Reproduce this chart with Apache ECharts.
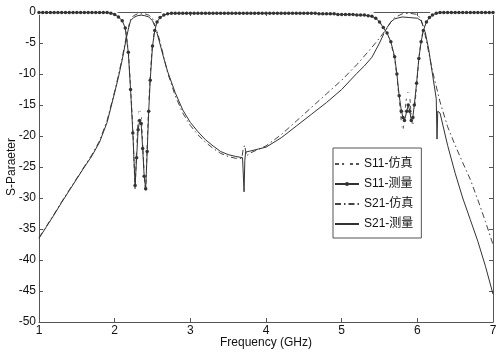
<!DOCTYPE html>
<html><head><meta charset="utf-8">
<script src="https://cdn.jsdelivr.net/npm/echarts/dist/echarts.min.js"></script>
<style>html,body{margin:0;padding:0;background:#fff}#c{width:500px;height:355px}</style>
</head><body><div id="c"></div><script>
var FONT = 'Arial, "Liberation Sans", "Noto Sans CJK SC", sans-serif';
var seriesNames = ['S11-仿真', 'S11-测量', 'S21-仿真', 'S21-测量'];

var freqS11 = [
 1.00,1.05,1.10,1.15,1.20,1.25,1.30,1.35,1.40,1.45,1.50,1.55,1.60,1.65,1.70,1.75,1.80,1.85,1.90,1.95,2.00,2.05,2.10,
 2.14,2.18,2.21,2.24,2.27,2.29,2.31,2.33,2.35,2.37,2.39,2.41,2.43,2.45,2.47,2.50,2.53,2.56,2.60,2.65,2.70,
 2.75,2.80,2.85,2.90,2.95,3.00,3.05,3.10,3.15,3.20,3.25,3.30,3.35,3.40,3.45,3.50,3.55,3.60,3.65,3.70,3.75,3.80,3.85,3.90,3.95,4.00,4.05,4.10,4.15,4.20,4.25,4.30,4.35,4.40,4.45,4.50,4.55,
 4.60,4.65,4.70,4.75,4.80,4.85,4.90,4.95,5.00,5.05,5.10,5.15,5.20,5.25,5.30,5.35,
 5.40,5.45,5.50,5.55,5.60,5.65,5.70,5.73,5.76,5.79,5.81,5.83,5.86,5.88,5.90,5.92,5.94,5.96,5.99,6.02,6.05,6.08,6.12,6.16,6.20,6.25,
 6.30,6.35,6.40,6.45,6.50,6.55,6.60,6.65,6.70,6.75,6.80,6.85,6.90,6.95,7.00
];
var s11Sim = [
 0,0,0,0,0,0,0,0,0,0,0,0,0,0,0,0,0,0,0,-0.1,-0.3,-0.6,-1.2,
 -2.4,-6,-12,-18.5,-29,-22,-17,-15.5,-16.5,-21,-26,-29.5,-21,-15,-10,-5,-2.8,-1.5,-0.8,-0.4,-0.2,
 -0.1,-0.1,0,0,0,0,0,0,0,0,0,0,0,0,0,0,0,0,0,0,0,0,0,0,0,0,0,0,0,0,0,0,0,0,0,-0.1,-0.1,
 -0.1,-0.1,-0.1,-0.1,-0.1,-0.2,-0.2,-0.2,-0.2,-0.2,-0.2,-0.2,-0.2,-0.3,-0.3,-0.4,
 -0.5,-0.9,-1.5,-2.4,-3.5,-5,-7.5,-10.5,-14,-18,-19.5,-16.5,-13.5,-12.5,-13.5,-17,-18.5,-16,-12,-7.5,-4.5,-2.8,-1.5,-0.8,-0.4,-0.2,
 0,0,0,0,0,0,0,0,0,0,0,0,0,0,0
];
var s11Meas = [
 -0.1,-0.1,-0.1,-0.1,-0.1,-0.1,-0.1,-0.1,-0.1,-0.1,-0.1,-0.1,-0.1,-0.1,-0.1,-0.1,-0.1,-0.1,-0.1,-0.2,-0.4,-0.8,-1.4,
 -2.6,-6.5,-12.5,-19.5,-28,-23.5,-19,-17.5,-18,-22,-26.5,-28.5,-22.5,-16,-11,-5.5,-3,-1.6,-0.9,-0.5,-0.3,
 -0.2,-0.2,-0.2,-0.2,-0.2,-0.2,-0.2,-0.2,-0.2,-0.2,-0.2,-0.2,-0.2,-0.2,-0.2,-0.2,-0.2,-0.2,-0.2,-0.2,-0.2,-0.2,-0.2,-0.2,-0.2,-0.2,-0.2,-0.2,-0.2,-0.2,-0.2,-0.2,-0.2,-0.2,-0.2,-0.2,-0.2,
 -0.2,-0.2,-0.3,-0.3,-0.3,-0.3,-0.3,-0.4,-0.4,-0.4,-0.4,-0.4,-0.5,-0.5,-0.5,-0.6,
 -0.7,-1.0,-1.6,-2.5,-3.4,-4.8,-7.2,-10,-13.5,-16,-17,-17.5,-16,-15,-16,-17.5,-17,-15,-11.5,-7.5,-4.8,-3,-1.6,-0.9,-0.5,-0.2,
 -0.1,-0.1,-0.1,-0.1,-0.1,-0.1,-0.1,-0.1,-0.1,-0.1,-0.1,-0.1,-0.1,-0.1,-0.1
];

var freqS21Sim = [1.0,1.1,1.2,1.3,1.4,1.5,1.6,1.7,1.8,1.9,2.0,2.05,2.1,2.15,2.18,2.21,2.25,2.3,2.35,2.4,
 2.45,2.5,2.55,2.6,2.7,2.8,2.9,3.0,3.1,3.2,3.3,3.4,3.5,3.6,3.68,3.7,3.72,3.74,3.8,4.0,
 4.2,4.4,4.6,4.8,5.0,5.2,5.4,5.5,5.6,5.65,5.7,5.8,5.9,6.0,6.05,6.1,6.15,6.2,6.3,6.4,6.5,6.6,6.7,6.8,6.9,7.0];
var s21Sim = [-36.4,-34.5,-32.6,-30.6,-28.7,-26.8,-24.9,-23.0,-20.8,-17.5,
 -12.8,-10.2,-7.4,-4.2,-2.5,-1.2,-0.6,-0.3,-0.3,-0.3,
 -0.5,-1.0,-2.7,-4.8,-9.8,-13.5,-16.3,-18.3,-19.8,-21.0,
 -22.0,-22.8,-23.3,-23.6,-23.6,-22.0,-21.5,-23.2,-22.7,-21.6,
 -19.8,-17.6,-15.4,-13.2,-11.0,-8.5,-5.7,-4.2,-2.6,-1.6,
 -0.9,-0.3,-0.2,-0.4,-1.2,-3.5,-6.5,-9.5,-14.5,-18.5,
 -21.5,-24.3,-27.0,-30.3,-33.8,-37.5];

var freqS21Meas = [1.0,1.1,1.2,1.3,1.4,1.5,1.6,1.7,1.8,1.9,2.0,2.05,2.1,2.15,2.18,2.21,2.25,2.3,2.35,2.4,
 2.45,2.5,2.53,2.56,2.6,2.65,2.7,2.8,2.9,3.0,3.1,3.2,3.3,3.4,3.5,3.6,3.69,3.7,3.71,3.72,
 3.73,3.8,3.9,4.0,4.2,4.4,4.6,4.8,5.0,5.2,5.3,5.4,5.5,5.55,5.6,5.65,5.7,5.8,5.9,6.0,
 6.05,6.1,6.15,6.2,6.25,6.26,6.27,6.3,6.4,6.5,6.6,6.7,6.8,6.9,7.0];
var s21Meas = [-36.5,-34.6,-32.7,-30.7,-28.8,-26.9,-25.0,-23.2,-21.0,-17.8,
 -13.0,-10.5,-7.7,-4.5,-2.8,-1.4,-0.9,-0.6,-0.5,-0.6,
 -0.8,-1.4,-2.3,-3.4,-5.2,-7.5,-9.6,-13.0,-15.8,-17.8,
 -19.3,-20.6,-21.6,-22.5,-23.0,-23.3,-23.5,-23.6,-29.0,-24.0,
 -22.6,-22.4,-22.1,-21.8,-20.3,-18.4,-16.5,-14.6,-12.5,-9.9,
 -8.7,-7.3,-5.0,-3.7,-2.5,-1.6,-1.1,-0.8,-0.9,-1.0,
 -1.4,-3.0,-6.0,-10.0,-14.0,-20.5,-16.0,-16.3,-21.5,-26.0,
 -30.0,-33.5,-37.0,-41.0,-45.5];

var xTicks = [1,2,3,4,5,6,7];
var yTicks = [0,-5,-10,-15,-20,-25,-30,-35,-40,-45,-50];

function zip(f, v){ return f.map(function(x,i){ return [x, v[i]]; }); }

var axisColor = '#555';
var textColor = '#111';
function xAx(pos, show){
  return {type:'value', position:pos, min:xTicks[0], max:xTicks[xTicks.length-1], interval:1,
    axisLine:{show:true, onZero:false, lineStyle:{color:axisColor, width:1}},
    axisTick:{show:true, inside:true, length:4, lineStyle:{color:axisColor}},
    axisLabel:{show:show, color:textColor, fontSize:12, fontFamily:FONT, margin:3, showMinLabel:true, showMaxLabel:true},
    splitLine:{show:false},
    name: show ? 'Frequency (GHz)' : '', nameLocation:'middle', nameGap:15, nameMoveOverlap:false,
    nameTextStyle:{color:textColor, fontSize:12, fontFamily:FONT}};
}
function yAx(pos, show){
  return {type:'value', position:pos, min:yTicks[yTicks.length-1], max:yTicks[0], interval:5,
    axisLine:{show:true, onZero:false, lineStyle:{color:axisColor, width:1}},
    axisTick:{show:true, inside:true, length:4, lineStyle:{color:axisColor}},
    axisLabel:{show:show, color:textColor, fontSize:12, fontFamily:FONT, margin:3, showMinLabel:true, showMaxLabel:true},
    splitLine:{show:false},
    name: show ? 'S-Paraeter' : '', nameLocation:'middle', nameGap:21, nameMoveOverlap:false,
    nameTextStyle:{color:textColor, fontSize:12, fontFamily:FONT}};
}

var chart = echarts.init(document.getElementById('c'), null, {renderer:'canvas'});
chart.setOption({
  animation:false,
  backgroundColor:'#fff',
  grid:{left:39, right:7, top:12, bottom:33, containLabel:false, outerBoundsMode:'none'},
  xAxis:[xAx('bottom', true), xAx('top', false)],
  yAxis:[yAx('left', true), yAx('right', false)],
  legend:{
    data:[
      {name:seriesNames[0]},
      {name:seriesNames[1]},
      {name:seriesNames[2], itemStyle:{opacity:0}},
      {name:seriesNames[3], itemStyle:{opacity:0}}
    ],
    orient:'vertical', left:333, top:148,
    backgroundColor:'#fff', borderColor:'#555', borderWidth:1,
    padding:[9,8,7,1], itemWidth:24, itemHeight:5, itemGap:6,
    textStyle:{color:textColor, fontSize:12, fontFamily:FONT, lineHeight:14}
  },
  series:[
    {name:seriesNames[0], type:'line', data:zip(freqS11, s11Sim), xAxisIndex:0, yAxisIndex:0,
     symbol:'emptyCircle', symbolSize:4, showAllSymbol:true,
     lineStyle:{color:'#555', width:1, type:[4,3]},
     itemStyle:{color:'#fff', borderColor:'#666', borderWidth:0.8}, z:3},
    {name:seriesNames[1], type:'line', data:zip(freqS11, s11Meas), xAxisIndex:0, yAxisIndex:0,
     symbol:'circle', symbolSize:3.5, showAllSymbol:true,
     lineStyle:{color:'#333', width:1},
     itemStyle:{color:'#333'}, z:4},
    {name:seriesNames[2], type:'line', data:zip(freqS21Sim, s21Sim), xAxisIndex:0, yAxisIndex:0,
     symbol:'none', showSymbol:false,
     lineStyle:{color:'#444', width:1, type:[6,3,1.5,3]},
     itemStyle:{color:'#444'}, z:2},
    {name:seriesNames[3], type:'line', data:zip(freqS21Meas, s21Meas), xAxisIndex:0, yAxisIndex:0,
     symbol:'none', showSymbol:false,
     lineStyle:{color:'#333', width:1},
     itemStyle:{color:'#333'}, z:2}
  ]
});
</script></body></html>
